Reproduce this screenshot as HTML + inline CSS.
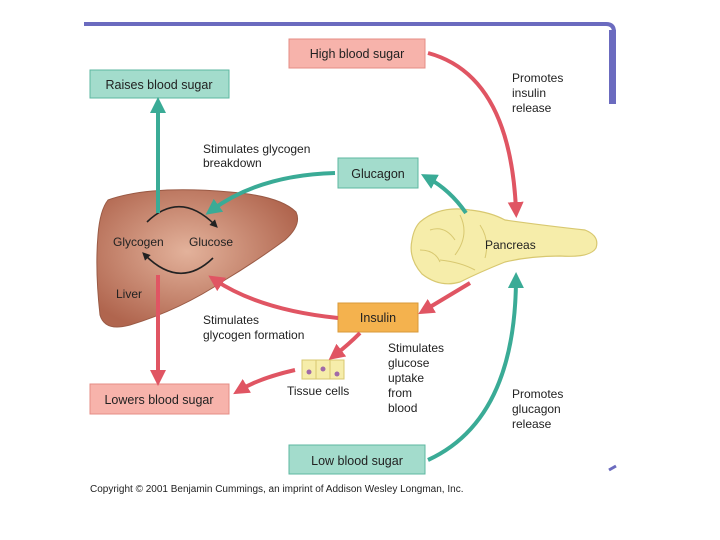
<!DOCTYPE html>
<html><head><meta charset="utf-8"><style>
body{margin:0;background:#fff}
svg{display:block}
text{font-family:"Liberation Sans",sans-serif;fill:#222}
</style></head><body>
<svg width="720" height="540" viewBox="0 0 720 540">
<defs>
<radialGradient id="lg" cx="0.45" cy="0.45" r="0.6"><stop offset="0" stop-color="#e3b29b"/><stop offset="1" stop-color="#b0654e"/></radialGradient>
<marker id="ar" viewBox="0 0 10 10" refX="5" refY="5" markerWidth="4" markerHeight="4" orient="auto"><path d="M0,0L10,5L0,10z" fill="#e05563"/></marker>
<marker id="at" viewBox="0 0 10 10" refX="5" refY="5" markerWidth="4" markerHeight="4" orient="auto"><path d="M0,0L10,5L0,10z" fill="#3aab96"/></marker>
<marker id="ak" viewBox="0 0 10 10" refX="5" refY="5" markerWidth="5" markerHeight="5" orient="auto"><path d="M0,0L10,5L0,10z" fill="#222"/></marker>
</defs>
<!-- blue frame -->
<path d="M84,24 H606 Q614,24 614,32 V104" fill="none" stroke="#6b6bbf" stroke-width="4"/>
<rect x="609" y="30" width="7" height="74" fill="#6b6bbf"/>
<path d="M609,470 L616,466" stroke="#6b6bbf" stroke-width="3"/>
<!-- liver -->
<path d="M108,200 Q150,185 230,192 Q280,196 296,212 Q302,225 285,240 Q255,262 225,280 Q180,310 130,325 Q105,332 100,315 Q95,270 98,235 Q100,210 108,200 Z" fill="url(#lg)" stroke="#9a5a45" stroke-width="1"/>
<!-- pancreas -->
<path d="M420,222 Q440,205 470,210 Q490,212 505,220 Q540,225 585,230 Q600,236 596,248 Q590,258 560,256 Q530,256 505,262 Q480,272 460,282 Q440,288 422,274 Q408,258 412,240 Q414,228 420,222 Z" fill="#f6edaa" stroke="#d8c870" stroke-width="1.2"/>
<path d="M430,230 Q445,225 455,240 M460,215 Q470,235 455,255 M440,260 Q460,262 475,270 M480,225 Q490,240 485,258 M420,250 Q435,250 440,262" fill="none" stroke="#d8c870" stroke-width="1"/>
<!-- boxes -->
<rect x="289" y="39" width="136" height="29" fill="#f7b3ab" stroke="#e48d86"/>
<rect x="90" y="70" width="139" height="28" fill="#a3dccc" stroke="#5cb7a0"/>
<rect x="338" y="158" width="80" height="30" fill="#a3dccc" stroke="#5cb7a0"/>
<rect x="338" y="303" width="80" height="29" fill="#f4b24e" stroke="#d99a3a"/>
<rect x="90" y="384" width="139" height="30" fill="#f7b3ab" stroke="#e48d86"/>
<rect x="289" y="445" width="136" height="29" fill="#a3dccc" stroke="#5cb7a0"/>
<g font-size="12.5" text-anchor="middle">
<text x="357" y="58">High blood sugar</text>
<text x="159" y="89">Raises blood sugar</text>
<text x="378" y="178">Glucagon</text>
<text x="378" y="322">Insulin</text>
<text x="159" y="404">Lowers blood sugar</text>
<text x="357" y="465">Low blood sugar</text>
</g>
<g font-size="12">
<text x="512" y="82">Promotes</text><text x="512" y="97">insulin</text><text x="512" y="112">release</text>
<text x="203" y="153">Stimulates glycogen</text><text x="203" y="167">breakdown</text>
<text x="113" y="246">Glycogen</text><text x="189" y="246">Glucose</text>
<text x="116" y="298">Liver</text>
<text x="485" y="249">Pancreas</text>
<text x="203" y="324">Stimulates</text><text x="203" y="339">glycogen formation</text>
<text x="388" y="352">Stimulates</text><text x="388" y="367">glucose</text><text x="388" y="382">uptake</text><text x="388" y="397">from</text><text x="388" y="412">blood</text>
<text x="287" y="395">Tissue cells</text>
<text x="512" y="398">Promotes</text><text x="512" y="413">glucagon</text><text x="512" y="428">release</text>
</g>
<text x="90" y="492" font-size="10">Copyright © 2001 Benjamin Cummings, an imprint of Addison Wesley Longman, Inc.</text>
<!-- tissue cells -->
<g stroke="#d8c870" fill="#f6edaa"><rect x="302" y="360" width="14" height="19"/><rect x="316" y="360" width="14" height="19"/><rect x="330" y="360" width="14" height="19"/></g>
<g fill="#a06aa8"><circle cx="309" cy="372" r="2.5"/><circle cx="323" cy="369" r="2.5"/><circle cx="337" cy="374" r="2.5"/></g>
<!-- cycle -->
<path d="M147,222 Q180,190 215,225" fill="none" stroke="#222" stroke-width="1.6" marker-end="url(#ak)"/>
<path d="M213,258 Q180,290 145,255" fill="none" stroke="#222" stroke-width="1.6" marker-end="url(#ak)"/>
<!-- arrows red -->
<g fill="none" stroke="#e05563" stroke-width="4">
<path d="M428,53 Q510,75 516,210" marker-end="url(#ar)"/>
<path d="M338,318 Q260,310 215,280" marker-end="url(#ar)"/>
<path d="M470,283 Q445,298 425,310" marker-end="url(#ar)"/>
<path d="M158,275 V378" marker-end="url(#ar)"/>
<path d="M360,333 Q348,345 335,355" marker-end="url(#ar)"/>
<path d="M295,370 Q260,378 240,390" marker-end="url(#ar)"/>
</g>
<g fill="none" stroke="#3aab96" stroke-width="4">
<path d="M158,213 V105" marker-end="url(#at)"/>
<path d="M335,173 Q260,175 212,210" marker-end="url(#at)"/>
<path d="M466,213 Q450,190 428,178" marker-end="url(#at)"/>
<path d="M428,460 Q515,420 516,280" marker-end="url(#at)"/>
</g>
</svg>
</body></html>
